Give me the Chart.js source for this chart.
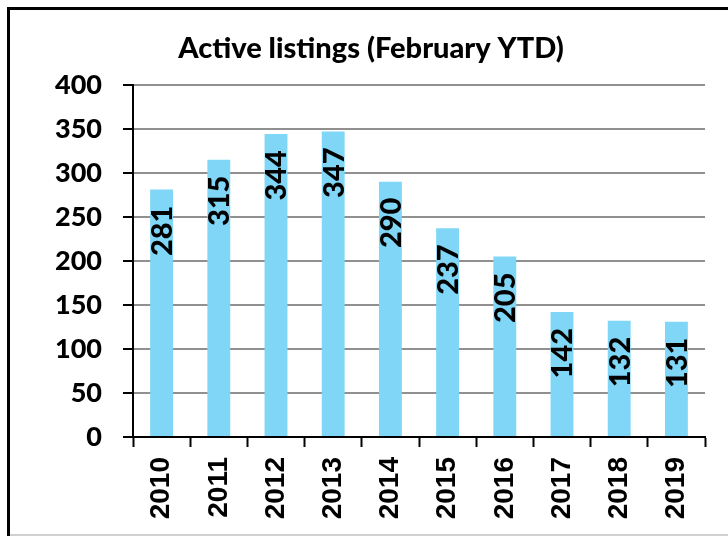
<!DOCTYPE html>
<html>
<head>
<meta charset="utf-8">
<script src="https://cdn.jsdelivr.net/npm/chart.js@4"></script>
<style>
  html, body { margin: 0; padding: 0; background: #fff; }
  #wrap { width: 728px; height: 536px; position: relative; }
</style>
</head>
<body>
<div id="wrap"><canvas id="c" width="728" height="536"></canvas></div>
<script>
const chartTitle = 'Active listings (February YTD)';
const years = ['2010','2011','2012','2013','2014','2015','2016','2017','2018','2019'];
const listings = [281, 315, 344, 347, 290, 237, 205, 142, 132, 131];
const yTicks = [0, 50, 100, 150, 200, 250, 300, 350, 400];

const frame = {
  id: 'frame',
  beforeDraw(chart) {
    const ctx = chart.ctx;
    ctx.save();
    ctx.fillStyle = '#fff';
    ctx.fillRect(0, 0, chart.width, chart.height);
    ctx.fillStyle = '#000';
    ctx.fillRect(7, 7, chart.width - 7, 3);
    ctx.fillRect(7, 7, 3, chart.height - 7);
    ctx.fillStyle = '#d0d0d0';
    ctx.fillRect(10, chart.height - 2, chart.width - 10, 2);
    ctx.restore();
  }
};

const valueLabels = {
  id: 'valueLabels',
  afterDraw(chart) {
    const ctx = chart.ctx;
    const meta = chart.getDatasetMeta(0);
    ctx.save();
    ctx.fillStyle = '#000';
    ctx.font = '900 29px Lato';
    ctx.textAlign = 'right';
    ctx.textBaseline = 'middle';
    meta.data.forEach((bar, i) => {
      ctx.save();
      ctx.translate(bar.x, bar.y + 16);
      ctx.rotate(-Math.PI / 2);
      ctx.fillText(String(listings[i]), 0, 1);
      ctx.restore();
    });
    ctx.restore();
  }
};

new Chart(document.getElementById('c'), {
  type: 'bar',
  data: {
    labels: years,
    datasets: [{
      data: listings,
      backgroundColor: '#7fd6f6',
      borderWidth: 0,
      barPercentage: 0.4,
      categoryPercentage: 1
    }]
  },
  options: {
    responsive: false,
    devicePixelRatio: 1,
    animation: false,
    layout: { padding: { top: 20, right: 23, left: 37, bottom: 0 } },
    plugins: {
      legend: { display: false },
      tooltip: { enabled: false },
      title: {
        display: true,
        text: chartTitle,
        color: '#000',
        font: { family: 'Lato', size: 29, weight: 900, lineHeight: 1.2 },
        padding: { top: 11, bottom: 19 }
      }
    },
    scales: {
      x: {
        grid: {
          display: true,
          drawOnChartArea: false,
          drawTicks: true,
          tickLength: 10,
          tickColor: '#000',
          tickWidth: 2,
          offset: true
        },
        border: { display: true, color: '#000', width: 2 },
        ticks: {
          color: '#000',
          font: { family: 'Liberation Sans', size: 28, weight: 'bold' },
          minRotation: 90,
          maxRotation: 90,
          padding: 10,
          autoSkip: false
        },
        afterFit(scale) { scale.height = 99; }
      },
      y: {
        min: 0,
        max: 400,
        z: 1,
        afterBuildTicks(scale) { scale.ticks = yTicks.map(v => ({ value: v })); },
        grid: {
          color: '#909090',
          lineWidth: 2,
          tickColor: '#000',
          tickWidth: 2,
          tickLength: 10
        },
        border: { display: true, color: '#000', width: 2 },
        ticks: {
          color: '#000',
          font: { family: 'Lato', size: 27, weight: 900 },
          padding: 21
        },
        afterFit(scale) { scale.width = 96; }
      }
    }
  },
  plugins: [frame, valueLabels]
});
</script>
</body>
</html>
